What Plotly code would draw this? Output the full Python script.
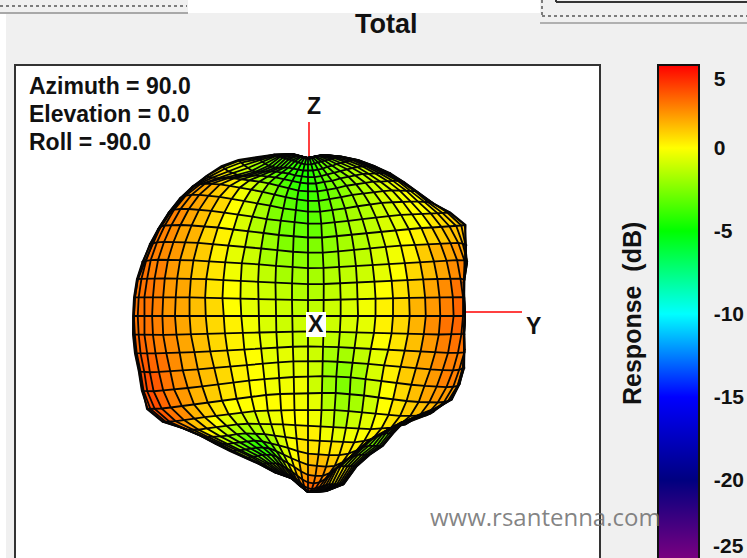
import numpy as np
import plotly.graph_objects as go
from plotly.colors import sample_colorscale

W, H = 747, 558
theta_deg = [6 * i for i in range(31)]
phi_deg = [-90 + 6 * j for j in range(31)]

radius_rows = [
[158]*31,
[163,163,163,163,163,163,162,162,161,161,160,160,159,159,158,158,158,159,159,160,160,161,161,161,162,162,162,162,162,162,162],
[165,165,165,164,164,163,163,162,161,160,159,158,157,156,155,155,155,156,157,158,159,160,161,162,162,163,163,163,163,163,163],
[167,166,165,164,162,160,158,157,156,156,156,156,155,154,153,153,153,154,155,157,158,160,161,162,163,164,164,164,164,164,164],
[171,170,168,165,162,159,158,158,158,158,158,157,156,154,153,152,152,153,155,157,159,161,162,163,164,164,164,164,164,164,164],
[173,172,170,167,165,163,162,162,162,162,161,160,158,156,154,153,153,155,156,159,161,162,164,164,165,165,165,165,165,165,164],
[173,173,172,171,170,170,170,170,169,168,166,164,161,158,155,154,154,156,158,161,163,165,166,166,167,167,167,166,166,165,164],
[173,174,175,176,177,178,178,177,175,173,170,167,163,160,157,155,155,157,160,163,165,167,168,169,169,169,168,168,167,166,165],
[172,174,176,178,180,181,181,180,178,175,172,168,165,161,158,156,156,158,161,164,167,169,170,171,171,171,171,170,170,169,168],
[172,174,176,179,181,182,182,181,179,176,173,169,165,162,159,157,157,159,162,165,168,170,172,173,174,175,175,175,176,176,176],
[172,174,176,179,181,182,182,181,179,177,173,170,166,162,159,157,157,160,163,166,169,172,174,176,177,178,179,180,181,182,182],
[171,174,177,179,181,182,182,181,180,177,174,170,166,162,158,156,156,159,163,167,170,173,175,177,179,180,180,178,176,174,172],
[172,175,177,179,181,182,182,181,180,177,174,171,167,162,158,155,156,159,163,167,170,173,176,178,180,181,180,176,171,167,165],
[174,176,178,179,180,181,181,180,179,177,173,169,165,160,156,153,154,158,162,167,171,173,176,178,180,180,175,168,163,160,159],
[174,176,178,179,180,180,180,179,178,176,172,167,162,157,154,152,153,158,162,167,171,173,176,178,180,180,172,165,160,158,157],
[174,176,178,179,179,180,180,179,177,174,169,164,159,155,152,150,152,157,162,166,170,173,176,178,180,179,172,165,160,158,157],
[175,177,178,179,180,180,180,178,176,172,167,162,158,153,150,148,149,154,158,163,168,171,174,177,178,178,172,165,160,158,157],
[176,178,179,180,180,180,179,177,174,170,165,160,155,151,148,146,147,150,154,158,164,168,172,175,177,177,175,168,163,161,160],
[177,179,180,181,182,181,179,177,173,168,163,158,154,150,147,146,146,148,151,155,160,165,170,173,175,176,174,171,168,165,163],
[181,183,184,185,185,183,181,177,173,168,163,159,155,152,150,149,148,149,151,155,160,165,169,172,174,175,174,172,169,167,165],
[186,186,186,186,185,183,180,177,173,169,165,161,158,156,155,155,154,154,156,159,163,167,170,172,173,173,172,170,168,167,166],
[180,180,180,180,179,177,174,172,170,167,164,162,161,160,160,160,160,160,162,164,167,169,170,170,170,169,166,163,160,158,157],
[168,168,169,170,170,170,168,166,164,162,161,161,161,162,163,164,165,165,166,168,169,168,167,164,162,158,155,152,150,149,148],
[161,161,162,163,163,163,162,161,159,158,158,159,161,163,165,167,168,169,170,170,168,165,160,155,151,148,146,144,143,143,143],
[158,158,158,158,158,158,157,156,155,154,155,157,160,163,167,170,171,172,172,170,166,160,154,150,148,146,145,145,145,145,145],
[156,156,156,156,155,155,154,153,152,152,153,156,160,164,168,172,173,174,173,169,164,158,154,151,150,150,150,150,150,150,150],
[155,155,155,155,154,154,153,152,152,152,154,157,161,165,170,174,175,175,172,167,162,158,155,153,152,152,152,152,152,152,152],
[156,156,156,156,156,155,155,155,155,156,158,161,164,168,172,175,176,175,172,168,164,160,158,158,158,158,158,158,158,158,158],
[160,160,160,160,160,160,160,160,161,162,163,165,168,171,174,176,177,176,175,174,173,172,172,172,172,172,172,172,172,172,172],
[163,163,163,163,163,164,165,166,167,169,170,171,172,174,175,176,177,177,177,176,176,176,176,176,176,176,176,176,176,176,176],
[176]*31,
]

db_rows = [
[-3.5]*31,
[-2.0,-2.0,-2.2,-2.4,-2.6,-2.8,-3.0,-3.2,-3.4,-3.5,-3.6,-3.7,-3.8,-3.9,-4.0,-4.0,-3.9,-3.7,-3.5,-3.3,-3.1,-2.9,-2.8,-2.6,-2.5,-2.4,-2.3,-2.2,-2.1,-2.0,-2.0],
[-1.2,-1.3,-1.6,-1.9,-2.3,-2.7,-3.0,-3.3,-3.4,-3.5,-3.6,-3.8,-4.0,-4.2,-4.3,-4.3,-4.1,-3.8,-3.4,-3.1,-2.8,-2.5,-2.3,-2.1,-1.9,-1.8,-1.7,-1.6,-1.5,-1.4,-1.4],
[-0.6,-0.7,-1.0,-1.5,-2.0,-2.6,-3.0,-3.2,-3.2,-3.2,-3.4,-3.7,-4.0,-4.3,-4.4,-4.4,-4.1,-3.6,-3.2,-2.8,-2.4,-2.1,-1.8,-1.6,-1.4,-1.3,-1.2,-1.1,-1.0,-0.9,-0.9],
[-0.2,-0.3,-0.5,-0.9,-1.3,-1.9,-2.4,-2.6,-2.6,-2.7,-3.0,-3.4,-3.8,-4.2,-4.4,-4.4,-4.0,-3.4,-2.9,-2.5,-2.1,-1.7,-1.4,-1.2,-1.0,-0.8,-0.7,-0.6,-0.6,-0.5,-0.5],
[0.3,0.2,0.0,-0.2,-0.5,-0.8,-1.1,-1.4,-1.7,-2.0,-2.5,-3.0,-3.5,-4.0,-4.3,-4.3,-3.8,-3.2,-2.7,-2.3,-1.9,-1.5,-1.2,-1.0,-0.7,-0.5,-0.4,-0.3,-0.3,-0.2,-0.2],
[1.0,1.1,1.1,1.0,0.9,0.7,0.4,0.1,-0.3,-0.8,-1.6,-2.3,-3.0,-3.6,-4.0,-4.1,-3.6,-3.0,-2.5,-2.1,-1.7,-1.3,-1.0,-0.7,-0.5,-0.3,-0.2,-0.1,0,0,0],
[1.5,1.7,1.9,2.0,1.9,1.8,1.5,1.1,0.6,0,-0.8,-1.6,-2.5,-3.2,-3.7,-3.9,-3.4,-2.8,-2.3,-1.9,-1.5,-1.1,-0.8,-0.5,-0.3,-0.1,0.1,0.2,0.3,0.3,0.4],
[1.8,2.1,2.4,2.5,2.4,2.2,1.8,1.4,0.9,0.3,-0.6,-1.3,-2.3,-3.0,-3.5,-3.6,-3.2,-2.6,-2.1,-1.7,-1.3,-0.9,-0.6,-0.3,-0.1,0.1,0.3,0.5,0.6,0.7,0.8],
[1.9,2.2,2.5,2.6,2.5,2.3,1.9,1.5,1.0,0.4,-0.4,-1.1,-2.0,-2.7,-3.2,-3.3,-2.9,-2.4,-1.9,-1.5,-1.1,-0.7,-0.4,-0.1,0.1,0.4,0.6,0.8,0.9,1.0,1.1],
[2.0,2.3,2.6,2.7,2.6,2.4,2.0,1.6,1.1,0.5,-0.3,-1.0,-1.8,-2.4,-2.8,-2.9,-2.6,-2.1,-1.7,-1.3,-0.9,-0.5,-0.2,0.1,0.4,0.7,0.9,1.1,1.2,1.2,1.2],
[2.0,2.3,2.6,2.7,2.6,2.4,2.1,1.7,1.2,0.6,-0.2,-0.8,-1.6,-2.1,-2.4,-2.5,-2.3,-1.9,-1.5,-1.1,-0.7,-0.2,0.4,0.9,1.4,1.7,1.7,1.5,1.3,1.1,1.0],
[2.0,2.3,2.6,2.7,2.7,2.5,2.2,1.8,1.3,0.7,-0.1,-0.6,-1.3,-1.7,-2.0,-2.1,-2.0,-1.6,-1.2,-0.8,-0.3,0.2,0.8,1.4,1.9,2.2,2.2,1.9,1.5,1.1,0.9],
[2.0,2.4,2.7,2.8,2.7,2.6,2.3,1.9,1.4,0.8,0.1,-0.4,-1.0,-1.4,-1.6,-1.7,-1.6,-1.3,-1.0,-0.5,0,0.6,1.2,1.8,2.3,2.6,2.6,2.3,1.8,1.2,0.8],
[2.0,2.4,2.7,2.8,2.8,2.6,2.3,1.9,1.5,0.9,0.3,-0.2,-0.8,-1.1,-1.3,-1.4,-1.3,-1.1,-0.7,-0.2,0.3,0.9,1.6,2.2,2.7,3.0,2.9,2.5,1.9,1.2,0.7],
[2.0,2.4,2.7,2.8,2.8,2.6,2.3,1.9,1.5,1.0,0.4,0,-0.6,-0.9,-1.1,-1.2,-1.1,-0.9,-0.5,0,0.5,1.2,1.9,2.5,2.9,3.1,3.0,2.6,2.0,1.2,0.6],
[2.2,2.5,2.8,2.9,2.9,2.7,2.4,2.0,1.5,1.0,0.4,0,-0.5,-0.8,-1.0,-1.1,-1.2,-1.2,-0.8,-0.3,0.4,1.1,1.8,2.4,2.8,3.0,2.8,2.4,1.8,1.2,0.7],
[2.4,2.7,3.0,3.1,3.0,2.8,2.4,2.0,1.5,1.0,0.4,0.1,-0.4,-0.6,-0.8,-0.9,-1.3,-1.7,-1.4,-0.7,0.1,0.9,1.6,2.2,2.6,2.7,2.6,2.2,1.8,1.3,0.9],
[2.8,3.1,3.3,3.4,3.3,3.0,2.5,2.0,1.5,1.0,0.4,0.1,-0.3,-0.5,-0.6,-0.7,-1.4,-2.2,-1.9,-1.1,-0.2,0.7,1.4,2.0,2.4,2.6,2.5,2.2,1.8,1.4,1.1],
[3.1,3.4,3.6,3.6,3.4,3.0,2.5,1.9,1.4,0.9,0.3,0.1,-0.2,-0.3,-0.4,-0.5,-1.5,-2.6,-2.3,-1.4,-0.4,0.5,1.2,1.8,2.2,2.4,2.4,2.2,1.9,1.5,1.3],
[3.4,3.6,3.7,3.6,3.3,2.8,2.2,1.6,1.1,0.7,0.2,0.1,-0.1,-0.1,-0.2,-0.3,-1.2,-2.4,-2.3,-1.5,-0.6,0.2,0.8,1.2,1.5,1.7,1.8,1.8,1.7,1.5,1.4],
[3.4,3.5,3.4,3.2,2.8,2.3,1.6,0.9,0.3,-0.2,-0.3,-0.3,-0.2,-0.1,-0.1,-0.1,-0.8,-1.8,-1.8,-1.1,-0.4,0.3,0.8,1.1,1.3,1.4,1.3,1.2,1.0,0.9,0.8],
[2.8,2.8,2.5,2.1,1.6,1.0,0.4,-0.2,-0.8,-1.1,-1.2,-0.9,-0.5,-0.2,0,0.1,-0.2,-1.0,-1.0,-0.6,-0.1,0.4,0.7,0.8,0.6,0.2,-0.2,-0.6,-0.9,-1.0,-1.0],
[2.2,2.0,1.7,1.2,0.6,0,-0.6,-1.3,-2.0,-2.5,-2.4,-1.8,-1.0,-0.4,0.1,0.4,0.3,0,0,0.2,0.3,0.3,0.1,-0.4,-1.0,-1.6,-2.0,-2.3,-2.4,-2.4,-2.4],
[1.2,1.0,0.6,0.1,-0.6,-1.3,-2.0,-2.7,-3.4,-3.8,-3.5,-2.6,-1.4,-0.4,0.3,0.8,0.9,0.8,0.7,0.6,0.2,-0.5,-1.5,-2.2,-2.6,-2.8,-2.8,-2.8,-2.8,-2.8,-2.8],
[0.3,0.1,-0.4,-1.0,-1.8,-2.5,-3.2,-3.8,-4.2,-4.4,-4.0,-2.9,-1.4,-0.2,0.7,1.3,1.6,1.6,1.3,0.5,-0.5,-1.5,-2.2,-2.6,-2.7,-2.7,-2.7,-2.7,-2.7,-2.7,-2.7],
[-0.2,-0.4,-0.9,-1.5,-2.2,-2.8,-3.4,-3.8,-4.0,-3.9,-3.2,-2.1,-0.8,0.3,1.2,2.0,2.3,2.3,1.6,0.6,-0.5,-1.4,-1.8,-2.0,-2.1,-2.1,-2.1,-2.1,-2.1,-2.1,-2.1],
[-0.4,-0.6,-1.0,-1.4,-1.9,-2.2,-2.5,-2.6,-2.5,-2.1,-1.4,-0.5,0.5,1.4,2.1,2.7,2.9,2.8,2.2,1.5,0.6,-0.1,-0.5,-0.7,-0.8,-0.8,-0.8,-0.8,-0.8,-0.8,-0.8],
[0,-0.1,-0.3,-0.5,-0.7,-0.8,-0.8,-0.7,-0.4,0,0.6,1.2,1.8,2.4,2.9,3.2,3.4,3.4,3.0,2.5,2.0,1.6,1.4,1.2,1.1,1.1,1.1,1.1,1.1,1.1,1.1],
[1.2,1.2,1.2,1.2,1.2,1.3,1.4,1.6,1.8,2.1,2.4,2.7,3.0,3.2,3.4,3.5,3.6,3.6,3.4,3.2,3.0,2.8,2.7,2.6,2.6,2.6,2.6,2.6,2.6,2.6,2.6],
[3.7]*31,
]

tick_positions = [4.2, 0, -5, -10, -15, -20]
tick_labels = ["5", "0", "-5", "-10", "-15", "-20"]
last_tick_label = "-25"
view_lines = ["Azimuth = 90.0", "Elevation = 0.0", "Roll = -90.0"]

colorscale = [[0, "#800080"], [1/6, "#000080"], [2/6, "#0000ff"], [3/6, "#00ffff"],
              [4/6, "#00ff00"], [5/6, "#ffff00"], [1, "#ff0000"]]
DB_MIN, DB_MAX = -25, 5

R = np.array(radius_rows, dtype=float)
D = np.array(db_rows, dtype=float)
th = np.radians(theta_deg)[:, None]
ph = np.radians(phi_deg)[None, :]
Y = R * np.sin(th) * np.sin(ph)
Z = R * np.cos(th)

fig = go.Figure()

# colour scale carrier
fig.add_trace(go.Scatter(
    x=[0], y=[0], mode="markers", hoverinfo="skip", showlegend=False,
    marker=dict(size=1, color=[0], cmin=DB_MIN, cmax=DB_MAX, colorscale=colorscale, showscale=True,
                colorbar=dict(x=658/W, xanchor="left", xpad=0, ypad=0, thickness=41, thicknessmode="pixels",
                              lenmode="pixels", len=498, y=1-65/H, yanchor="top",
                              outlinecolor="#111111", outlinewidth=2,
                              tickmode="array", tickvals=tick_positions,
                              ticktext=[f"<b>{t}</b>" for t in tick_labels],
                              ticks="outside", ticklen=10, tickcolor="rgba(0,0,0,0)",
                              tickfont=dict(family="Liberation Sans", size=21, color="#111111")))))

# filled mesh cells, grouped by colour
bins = {}
for i in range(30):
    for j in range(30):
        val = D[i:i+2, j:j+2].mean()
        key = round(val * 4) / 4
        xs, ys = bins.setdefault(key, ([], []))
        xs += [Y[i, j], Y[i, j+1], Y[i+1, j+1], Y[i+1, j], Y[i, j], None]
        ys += [Z[i, j], Z[i, j+1], Z[i+1, j+1], Z[i+1, j], Z[i, j], None]
for key, (xs, ys) in bins.items():
    col = sample_colorscale(colorscale, [(key - DB_MIN) / (DB_MAX - DB_MIN)])[0]
    fig.add_trace(go.Scatter(x=xs, y=ys, mode="lines", fill="toself", fillcolor=col,
                             line=dict(color=col, width=0.5), hoverinfo="skip", showlegend=False))

# mesh lines
lx, ly = [], []
for i in range(31):
    lx += list(Y[i, :]) + [None]
    ly += list(Z[i, :]) + [None]
for j in range(31):
    lx += list(Y[:, j]) + [None]
    ly += list(Z[:, j]) + [None]
fig.add_trace(go.Scatter(x=lx, y=ly, mode="lines", line=dict(color="#050505", width=1.8),
                         hoverinfo="skip", showlegend=False))

def px(x): return x / W
def py(y): return 1 - y / H

def rect(x0, y0, x1, y1, fill, line=None, lw=0):
    return dict(type="rect", xref="paper", yref="paper", x0=px(x0), x1=px(x1), y0=py(y0), y1=py(y1),
                fillcolor=fill, line=dict(color=line or fill, width=lw), layer="below")

def seg(x0, y0, x1, y1, color, lw=1, dash="solid", layer="below"):
    return dict(type="line", xref="paper", yref="paper", x0=px(x0), x1=px(x1), y0=py(y0), y1=py(y1),
                line=dict(color=color, width=lw, dash=dash), layer=layer)

shapes = [
    rect(0, 0, 6, H, "#ffffff"),
    rect(0, 0, 188, 12, "#f0f0f0"),
    rect(188, 0, 540, 13, "#ffffff"),
    rect(540, 0, W, 23, "#f0f0f0"),
    seg(0, 6, 187, 6, "#555555", 1.5, "dot"),
    seg(0, 13, 188, 13, "#a8a8a8", 2),
    seg(542, 0, 542, 15, "#555555", 1.5, "dot"),
    seg(542, 16, W, 16, "#555555", 1.5, "dot"),
    seg(540, 23, W, 23, "#b0b0b0", 2),
    seg(556, 2, W, 2, "#333333", 2),
    seg(556, 0, 556, 2, "#333333", 2),
    rect(15, 65, 600, H + 10, "#ffffff", "#333333", 2),
    seg(309, 122, 309, 158, "#ff0000", 1.5),
    seg(465, 312, 522, 312, "#ff0000", 1.5),
    dict(type="rect", xref="paper", yref="paper", x0=px(306), x1=px(326), y0=py(312), y1=py(337),
         fillcolor="#ffffff", line=dict(width=0), layer="above"),
]

def label(text, x, y, size, color="#111111", anchor="center", angle=0, family="Liberation Sans", bold=True):
    return dict(text=f"<b>{text}</b>" if bold else text, x=px(x), y=py(y), xref="paper", yref="paper",
                showarrow=False, xanchor=anchor, yanchor="middle", textangle=angle,
                font=dict(family=family, size=size, color=color))

annotations = [
    label("Total", 386, 24, 27),
    label(view_lines[0], 27, 86, 23, anchor="left"),
    label(view_lines[1], 27, 114, 23, anchor="left"),
    label(view_lines[2], 27, 142, 23, anchor="left"),
    label("Z", 314, 106, 23),
    label("Y", 533, 326, 23),
    label("X", 316, 324, 23),
    label("Response  (dB)", 632, 314, 25, angle=-90),
    label(last_tick_label, 711, 545, 21, anchor="left"),
    label("www.rsantenna.com", 545, 516, 24, color="rgba(110,110,110,0.85)", family="Open Sans", bold=False),
]

fig.update_layout(
    width=W, height=H, margin=dict(l=0, r=0, t=0, b=0, autoexpand=False),
    paper_bgcolor="#f0f0f0", plot_bgcolor="rgba(0,0,0,0)", showlegend=False,
    xaxis=dict(range=[-308, W - 308], visible=False, domain=[0, 1], fixedrange=True),
    yaxis=dict(range=[316 - H, 316], visible=False, domain=[0, 1], fixedrange=True),
    shapes=shapes, annotations=annotations,
)
fig.write_html("out.html", config={"displayModeBar": False},
               post_script="document.body.style.margin='0';document.documentElement.style.overflow='hidden';")
